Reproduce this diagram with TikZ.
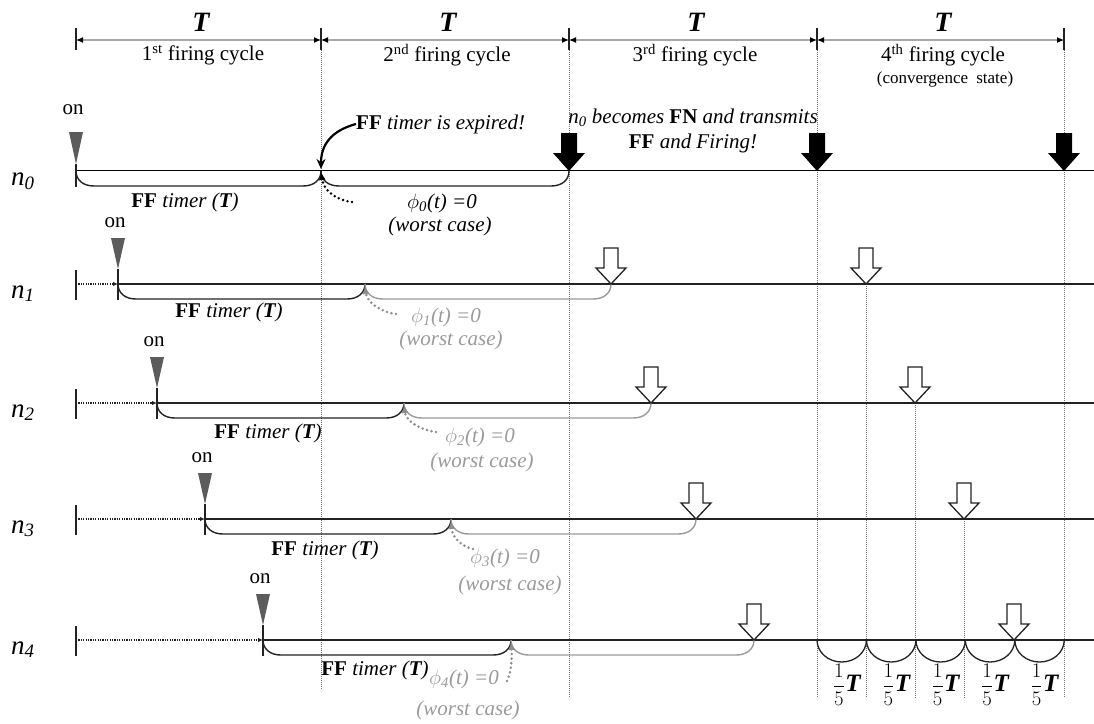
\documentclass[tikz,border=0pt]{standalone}
\usepackage{amsmath}
\usepackage{fontspec}
\setmainfont{Liberation Serif}
\usetikzlibrary{arrows.meta,calc}

\definecolor{ink}{HTML}{222222}
\definecolor{soft}{HTML}{9A9A9A}
\definecolor{softarrow}{HTML}{8C8C8C}
\definecolor{guide}{HTML}{6E6E6E}
\definecolor{onfill}{HTML}{5C5C5C}
\definecolor{dimgrey}{HTML}{A8A8A8}

\tikzset{
  lbl/.style={font=\fontsize{21}{25}\selectfont, inner sep=0pt},
  greylbl/.style={lbl, text=soft},
  hdr/.style={font=\fontsize{28}{30}\selectfont\bfseries\itshape, inner sep=0pt},
  rowname/.style={font=\fontsize{27}{30}\selectfont\itshape, inner sep=0pt, anchor=base west},
  tline/.style={draw=ink, line width=2.2pt},
  firstline/.style={draw=black, line width=0.9pt, double=white, double distance=0.9pt},
  guideline/.style={draw=guide, line width=0.8pt, dash pattern=on 1pt off 1pt},
  dimline/.style={draw=dimgrey, line width=1.1pt,
    {Latex[length=7pt,width=6pt,color=black]}-{Latex[length=7pt,width=6pt,color=black]}},
  tick/.style={draw=ink, line width=1.3pt},
  blkbrace/.style={draw=ink, line width=1.4pt},
  greybrace/.style={draw=soft, line width=1.4pt},
  lead/.style={draw=ink, line width=1.2pt, dash pattern=on 1.2pt off 1.2pt,
    -{Latex[length=5pt,width=4.5pt,color=ink]}},
  dotarrow/.style={line width=2.8pt, line cap=round, dash pattern=on 0pt off 4.6pt,
    -{Latex[length=8pt,width=7pt]}},
  quint/.style={draw=ink, line width=1.3pt},
  fifth/.style={font=\fontsize{22}{24}\selectfont, inner sep=0pt},
  firearrow/.pic={
    \fill[black] (0,0) -- (-16,-18) -- (-8,-18) -- (-8,-38) -- (8,-38) -- (8,-18) -- (16,-18) -- cycle;},
  hollowarrow/.pic={
    \draw[ink, line width=1.3pt, fill=white, line join=miter]
      (0,0) -- (-15,-16) -- (-7,-16) -- (-7,-36) -- (7,-36) -- (7,-16) -- (15,-16) -- cycle;},
  % switch-on marker: label, grey wedge and the tick through the time line
  poweron/.pic={
    \fill[onfill] (-7,-46) -- (7,-46) -- (0,-15) -- cycle;
    \draw[tick] (0,-15) -- (0,16);
    \node[lbl] (-txt) at (-3,-61) {on};},
  poweronfirst/.pic={
    \fill[onfill] (-7,-39) -- (7,-39) -- (0,-7) -- cycle;
    \draw[tick] (0,-7) -- (0,16);
    \node[lbl] (-txt) at (-3,-61) {on};}
}

% timer bracket below a time line: style, start x, end x, line y
\newcommand{\tlbrace}[4]{%
  \draw[#1] (#2,#4) .. controls (#2,#4+9) and (#2+7,#4+15) .. (#2+18,#4+15)
    -- (#3-18,#4+15) .. controls (#3-7,#4+15) and (#3,#4+9) .. (#3,#4);}

\begin{document}
\begin{tikzpicture}[x=1pt,y=-1pt]
\useasboundingbox (0,0) rectangle (1094,723);

% ---------- cycle boundaries and guides ----------
\draw[guideline] (321,50) -- (321,690);
\foreach \x in {569,817,1064} \draw[guideline] (\x,50) -- (\x,698);
\draw[guideline] (866,284) -- (866,698);
\draw[guideline] (915,403) -- (915,698);
\draw[guideline] (964,519) -- (964,698);

\foreach \i/\x in {0/76,1/321,2/569,3/817,4/1064} {
  \coordinate (b\i) at (\x,40);
  \draw[tick] (\x,28) -- (\x,50);
}
\foreach \a/\b in {0/1,1/2,2/3,3/4} \draw[dimline] (b\a) -- (b\b);

\node[hdr] (T1) at (201,22) {T};
\node[hdr] (T2) at (448,22) {T};
\node[hdr] (T3) at (696,22) {T};
\node[hdr] (T4) at (943,22) {T};
\node[lbl] (c1) at (203,55) {1\textsuperscript{st} firing cycle};
\node[lbl] (c2) at (447,55) {2\textsuperscript{nd} firing cycle};
\node[lbl] (c3) at (695,55) {3\textsuperscript{rd} firing cycle};
\node[lbl] (c4) at (943,55) {4\textsuperscript{th} firing cycle};
\node[lbl, font=\fontsize{17}{20}\selectfont] (conv) at (945,79) {(convergence\hspace{4pt} state)};

% ---------- n0 ----------
\draw[firstline] (76,171) -- (1094,171);
\pic at (76,171) {poweronfirst};
\node[rowname] (n0) at (11,185) {n\textsubscript{0}};
\tlbrace{blkbrace}{76}{321}{171}
\tlbrace{blkbrace}{321}{569}{171}
\coordinate (cusp0) at (321,172);
\coordinate (hit0) at (321,169);
\coordinate (d0) at (352,202);
\node[lbl] (ff0) at (185,202) {\textbf{FF} \textit{timer (\textbf{T})}};
\node[lbl] (phi0) at (442,203) {\textit{$\phi$\textsubscript{0}(t) =0}};
\node[lbl] (wc0) at (440,226) {\textit{(worst case)}};
\node[lbl, anchor=west] (exp) at (356,124) {\textbf{FF} \textit{timer is expired!}};
\draw[draw=black, line width=2.2pt, -{Stealth[length=10pt,width=9pt]}]
  (exp.west) .. controls (330,131) and (321,146) .. (hit0);
\draw[dotarrow, draw=black] (d0) .. controls (336,200) and (324,191) .. (cusp0);
\pic at (569,171) {firearrow};
\pic at (817,171) {firearrow};
\pic at (1064,171) {firearrow};
\node[lbl, align=center] (fn) at (693,131)
  {\textit{n\textsubscript{0} becomes} \textbf{FN} \textit{and transmits}\\\textbf{FF} \textit{and Firing!}};

% ---------- n1 ----------
\draw[tick] (76,270) -- (76,300);
\draw[lead] (76,284) -- (118,284);
\draw[tline] (118,284) -- (1094,284);
\pic at (118,284) {poweron};
\node[rowname] (n1) at (11,298) {n\textsubscript{1}};
\tlbrace{blkbrace}{118}{365}{284}
\tlbrace{greybrace}{365}{611}{284}
\coordinate (cusp1) at (365,286);
\coordinate (d1) at (396,314);
\node[lbl] (ff1) at (229,312) {\textbf{FF} \textit{timer (\textbf{T})}};
\node[greylbl] (phi1) at (446,317) {\textit{$\phi$\textsubscript{1}(t) =0}};
\node[greylbl] (wc1) at (451,340) {\textit{(worst case)}};
\draw[dotarrow, draw=softarrow] (d1) .. controls (380,312) and (367,302) .. (cusp1);
\pic at (611,284) {hollowarrow};
\pic at (866,284) {hollowarrow};

% ---------- n2 ----------
\draw[tick] (76,389) -- (76,419);
\draw[lead] (76,403) -- (157,403);
\draw[tline] (157,403) -- (1094,403);
\pic at (157,403) {poweron};
\node[rowname] (n2) at (11,417) {n\textsubscript{2}};
\tlbrace{blkbrace}{157}{404}{403}
\tlbrace{greybrace}{404}{651}{403}
\coordinate (cusp2) at (404,405);
\coordinate (d2) at (436,432);
\node[lbl] (ff2) at (268,433) {\textbf{FF} \textit{timer (\textbf{T})}};
\node[greylbl] (phi2) at (480,437) {\textit{$\phi$\textsubscript{2}(t) =0}};
\node[greylbl] (wc2) at (482,462) {\textit{(worst case)}};
\draw[dotarrow, draw=softarrow] (d2) .. controls (420,430) and (406,421) .. (cusp2);
\pic at (651,403) {hollowarrow};
\pic at (915,403) {hollowarrow};

% ---------- n3 ----------
\draw[tick] (76,505) -- (76,535);
\draw[lead] (76,519) -- (205,519);
\draw[tline] (205,519) -- (1094,519);
\pic at (205,519) {poweron};
\node[rowname] (n3) at (11,533) {n\textsubscript{3}};
\tlbrace{blkbrace}{205}{451}{519}
\tlbrace{greybrace}{451}{696}{519}
\coordinate (cusp3) at (451,521);
\coordinate (d3) at (473,549);
\node[lbl] (ff3) at (325,550) {\textbf{FF} \textit{timer (\textbf{T})}};
\node[greylbl] (phi3) at (505,558) {\textit{$\phi$\textsubscript{3}(t) =0}};
\node[greylbl] (wc3) at (510,585) {\textit{(worst case)}};
\draw[dotarrow, draw=softarrow] (d3) .. controls (460,546) and (452,536) .. (cusp3);
\pic at (696,519) {hollowarrow};
\pic at (964,519) {hollowarrow};

% ---------- n4 ----------
\draw[tick] (76,626) -- (76,656);
\draw[lead] (76,640) -- (263,640);
\draw[tline] (263,640) -- (1094,640);
\pic at (263,640) {poweron};
\node[rowname] (n4) at (11,654) {n\textsubscript{4}};
\tlbrace{blkbrace}{263}{511}{640}
\tlbrace{greybrace}{511}{754}{640}
\coordinate (cusp4) at (511,642);
\coordinate (d4) at (507,681);
\node[lbl] (ff4) at (375,670) {\textbf{FF} \textit{timer (\textbf{T})}};
\node[greylbl] (phi4) at (464,679) {\textit{$\phi$\textsubscript{4}(t) =0}};
\node[greylbl] (wc4) at (468,710) {\textit{(worst case)}};
\draw[dotarrow, draw=softarrow] (d4) .. controls (512,670) and (512,656) .. (cusp4);
\pic at (754,640) {hollowarrow};
\pic at (1014,640) {hollowarrow};

% fifths of the period in the converged cycle
\foreach \k in {0,...,4} {
  \pgfmathsetmacro{\xa}{817+49.45*\k}
  \pgfmathsetmacro{\xb}{817+49.45*(\k+1)}
  \pgfmathsetmacro{\xm}{817+49.45*(\k+0.5)}
  \draw[quint] (\xa,640) .. controls (\xa,652.2) and (\xm-13.6,662) .. (\xm,662)
    .. controls (\xm+13.6,662) and (\xb,652.2) .. (\xb,640);
  \node[fifth] (q\k) at (\xm+5,685) {$\dfrac{1}{5}$\hspace{0.5pt}{\fontsize{25}{28}\selectfont\bfseries\itshape T}};
}
\end{tikzpicture}
\end{document}
